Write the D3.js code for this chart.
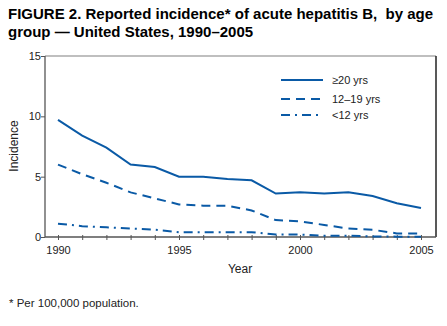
<!DOCTYPE html>
<html>
<head>
<meta charset="utf-8">
<script src="https://cdn.jsdelivr.net/npm/d3@7"></script>
<style>
  body { margin: 0; background: #fff; }
  text { font-family: "Liberation Sans", Arial, sans-serif; }
</style>
</head>
<body>
<svg id="chart"></svg>
<script>
const width = 447;
const height = 326;
const margin = {left: 45, right: 11, top: 56, bottom: 89};

const years = d3.range(1990, 2006);
const adults = [9.7, 8.4, 7.4, 6.0, 5.8, 5.0, 5.0, 4.8, 4.7, 3.6, 3.7, 3.6, 3.7, 3.4, 2.8, 2.4];
const teens = [6.0, 5.2, 4.5, 3.7, 3.2, 2.7, 2.6, 2.6, 2.2, 1.4, 1.3, 1.0, 0.7, 0.6, 0.3, 0.3];
const kids = [1.1, 0.9, 0.8, 0.7, 0.6, 0.4, 0.4, 0.4, 0.4, 0.2, 0.2, 0.1, 0.1, 0.05, 0.03, 0.02];
const xTickLabels = [1990, 1995, 2000, 2005];
const yTickLabels = [0, 5, 10, 15];
const seriesNames = ['\u226520 yrs', '12\u201319 yrs', '<12 yrs'];

const blue = '#0a5aa6';
const dashes = [null, '9,6', '9,5,2,5'];

const svg = d3.select('#chart')
  .attr('width', width)
  .attr('height', height);

// title
svg.append('text')
  .attr('x', 8).attr('y', 19)
  .attr('font-size', 15).attr('font-weight', 'bold')
  .style('white-space', 'pre')
  .text('FIGURE 2. Reported incidence* of acute hepatitis B,  by age');
svg.append('text')
  .attr('x', 8).attr('y', 37)
  .attr('font-size', 15).attr('font-weight', 'bold')
  .text('group \u2014 United States, 1990\u20132005');

const plotW = width - margin.left - margin.right;
const plotH = height - margin.top - margin.bottom;

const g = svg.append('g')
  .attr('transform', `translate(${margin.left}, ${margin.top})`);

const xScale = d3.scaleLinear().domain([1990, 2005]).range([13, 376]);
const yScale = d3.scaleLinear().domain([0, 15]).range([plotH, 0]);

// frame: top gray, right dark
g.append('line')
  .attr('x1', 0).attr('x2', plotW).attr('y1', 0).attr('y2', 0)
  .attr('stroke', '#aaa').attr('stroke-width', 1.5);
g.append('line')
  .attr('x1', plotW).attr('x2', plotW).attr('y1', 0).attr('y2', plotH)
  .attr('stroke', '#222').attr('stroke-width', 1.5);

// x axis
const xAxis = d3.axisBottom(xScale)
  .tickValues(years)
  .tickSize(5)
  .tickFormat(d => xTickLabels.includes(d) ? d : '');
const gx = g.append('g')
  .attr('transform', `translate(0, ${plotH})`)
  .call(xAxis);
gx.select('.domain').attr('d', `M0,0H${plotW}`).attr('stroke', '#555').attr('stroke-width', 1.3);
gx.selectAll('.tick line').attr('stroke', '#555').attr('y1', -2).attr('y2', 3);
gx.selectAll('.tick text').attr('font-size', 11).attr('fill', '#222').attr('dy', '1em').attr('y', 6);

// y axis
const yAxis = d3.axisLeft(yScale)
  .tickValues(yTickLabels)
  .tickSize(4);
const gy = g.append('g').call(yAxis);
gy.select('.domain').attr('d', `M0,0V${plotH}`).attr('stroke', '#555').attr('stroke-width', 1.3);
gy.selectAll('.tick line').attr('stroke', '#555');
gy.selectAll('.tick text').attr('font-size', 11).attr('fill', '#222').attr('x', -4);

// axis titles
svg.append('text')
  .attr('transform', 'translate(18, 146) rotate(-90)')
  .attr('text-anchor', 'middle').attr('font-size', 12).attr('fill', '#222')
  .text('Incidence');
svg.append('text')
  .attr('x', 240).attr('y', 273)
  .attr('text-anchor', 'middle').attr('font-size', 12).attr('fill', '#222')
  .text('Year');

// lines
const line = d3.line()
  .x((d, i) => xScale(years[i]))
  .y(d => yScale(d));

[adults, teens, kids].forEach((s, i) => {
  g.append('path')
    .datum(s)
    .attr('d', line)
    .attr('fill', 'none')
    .attr('stroke', blue)
    .attr('stroke-width', 2)
    .attr('stroke-dasharray', dashes[i]);
});

// legend
const legendY = [80, 99, 115];
seriesNames.forEach((name, i) => {
  svg.append('line')
    .attr('x1', 281).attr('x2', 323)
    .attr('y1', legendY[i]).attr('y2', legendY[i])
    .attr('stroke', blue).attr('stroke-width', 2)
    .attr('stroke-dasharray', dashes[i]);
  svg.append('text')
    .attr('x', 332).attr('y', legendY[i] + 4)
    .attr('font-size', 11).attr('fill', '#222')
    .text(name);
});

// footnote
svg.append('text')
  .attr('x', 9).attr('y', 307)
  .attr('font-size', 11.5).attr('fill', '#222')
  .text('* Per 100,000 population.');
</script>
</body>
</html>
